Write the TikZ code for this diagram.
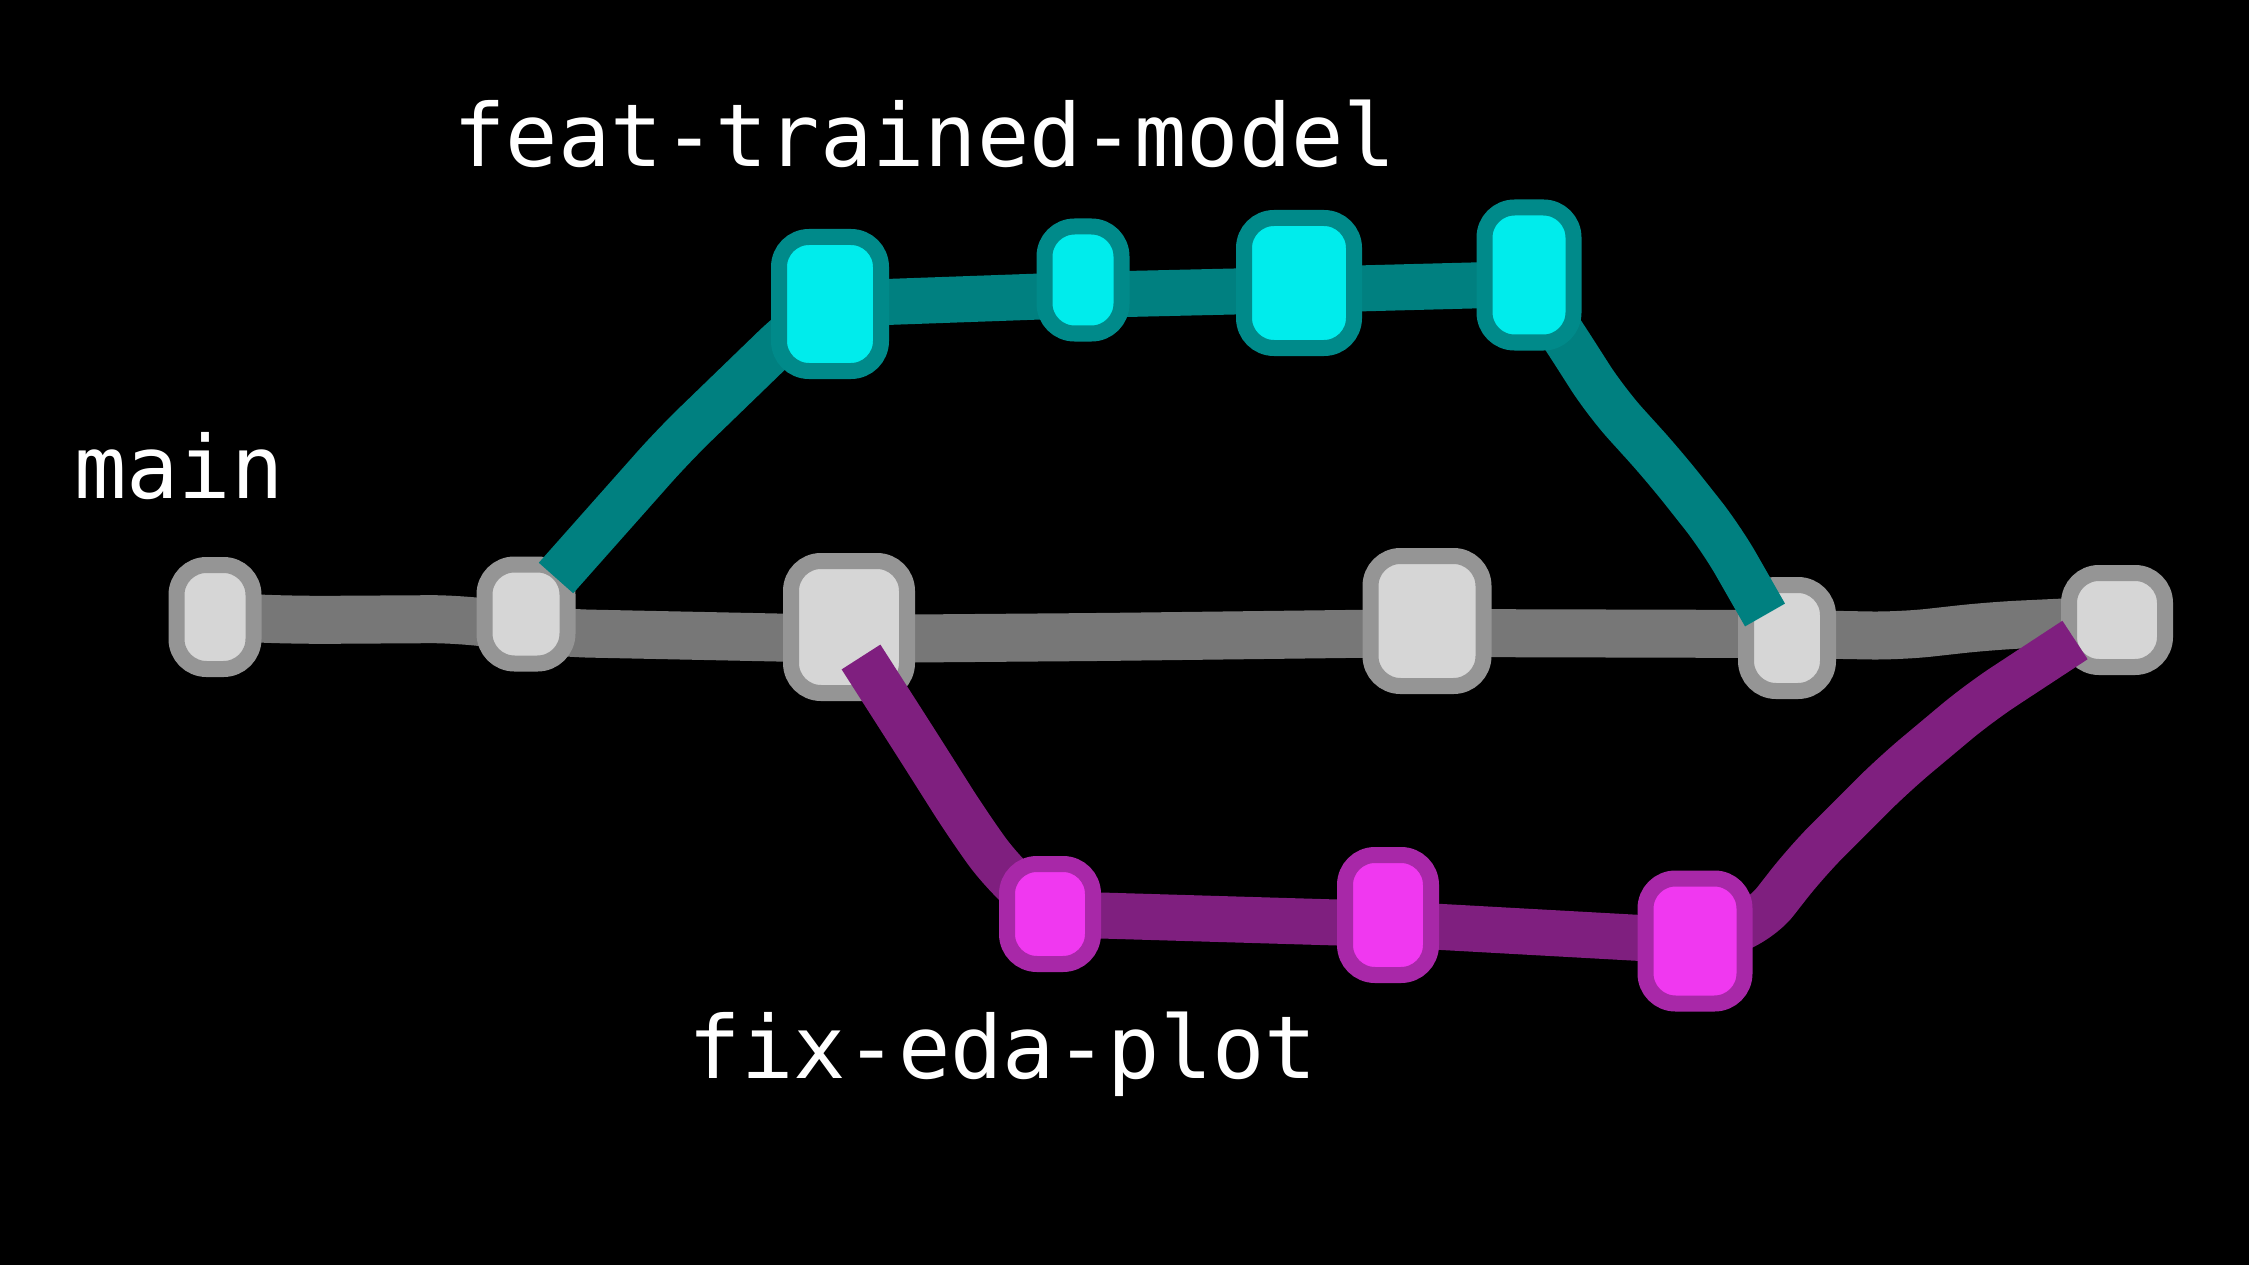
\documentclass[tikz,border=0pt]{standalone}
\usepackage{fontspec}
\newfontfamily\handfont{DejaVu Sans Mono}
\usetikzlibrary{calc}
\definecolor{grayline}{HTML}{777777}
\definecolor{gnodein}{HTML}{D6D6D6}
\definecolor{gnodeout}{HTML}{959595}
\definecolor{tealline}{HTML}{008080}
\definecolor{cnodein}{HTML}{00ECEC}
\definecolor{cnodeout}{HTML}{008A8A}
\definecolor{magline}{HTML}{7F1F7F}
\definecolor{mnodein}{HTML}{F038F0}
\definecolor{mnodeout}{HTML}{A828A8}
\pgfdeclarelayer{bg}
\pgfdeclarelayer{gline}
\pgfdeclarelayer{gnodes}
\pgfdeclarelayer{blines}
\pgfsetlayers{bg,gline,gnodes,blines,main}
\begin{document}
\begin{tikzpicture}[x=1pt,y=-1pt,
  commit/.style={rectangle, rounded corners=30pt, line width=16pt, inner sep=0pt},
  gcommit/.style={commit, fill=gnodein, draw=gnodeout},
  ccommit/.style={commit, fill=cnodein, draw=cnodeout},
  mcommit/.style={commit, fill=mnodein, draw=mnodeout},
  branchlabel/.style={text=white, font=\handfont\fontsize{87}{100}\selectfont, anchor=base, inner sep=0pt},
  mainpath/.style={draw=grayline, line width=48pt, line cap=butt, line join=round, rounded corners=30pt},
  featpath/.style={draw=tealline, line width=46pt, line cap=butt, line join=round, rounded corners=30pt},
  fixpath/.style={draw=magline, line width=46pt, line cap=butt, line join=round, rounded corners=30pt},
]
\begin{pgfonlayer}{bg}
\fill[black] (0,0) rectangle (2249,1265);
\end{pgfonlayer}
\useasboundingbox (0,0) rectangle (2249,1265);

% main commits
\begin{pgfonlayer}{gnodes}
\node[gcommit, minimum width=77pt, minimum height=104pt] (g1) at (215,617) {};
\node[gcommit, minimum width=83pt, minimum height=99pt] (g2) at (526,614) {};
\node[gcommit, minimum width=116pt, minimum height=132pt] (g3) at (849,627) {};
\node[gcommit, minimum width=113pt, minimum height=130pt] (g4) at (1427,621) {};
\node[gcommit, minimum width=82pt, minimum height=106pt] (g5) at (1787,638) {};
\node[gcommit, minimum width=96pt, minimum height=94pt] (g6) at (2117,620) {};
\end{pgfonlayer}

% feature commits
\node[ccommit, minimum width=102pt, minimum height=134pt] (c1) at (830,304) {};
\node[ccommit, minimum width=77pt, minimum height=107pt] (c2) at (1083,280) {};
\node[ccommit, minimum width=110pt, minimum height=130pt] (c3) at (1299,283) {};
\node[ccommit, minimum width=89pt, minimum height=135pt] (c4) at (1529,275) {};

% fix commits
\node[mcommit, minimum width=86pt, minimum height=100pt] (m1) at (1050,914) {};
\node[mcommit, minimum width=86pt, minimum height=120pt] (m2) at (1388,915) {};
\node[mcommit, minimum width=99pt, minimum height=125pt] (m3) at (1695,941) {};

% main line
\begin{pgfonlayer}{gline}
\draw[mainpath] (g1.center) -- (300,620) -- (460,619) -- (560,633)
  -- ($(g3.center)+(0,12)$) -- (1100,637) -- ($(g4.center)+(0,12)$)
  -- ($(g5.center)+(0,-4)$) -- (1900,636) -- (1990,626) -- (g6.center);
\end{pgfonlayer}

% branch lines
\begin{pgfonlayer}{blines}
\draw[featpath] ($(g2.center)+(30,-36)$) -- (674,445) -- (796,327) -- (c1.center)
  -- ($(c2.center)+(0,15)$) -- ($(c3.center)+(0,7)$) -- ($(c4.center)+(0,9)$)
  -- (1560,330) -- (1606,402) -- (1664,466) -- (1721,538)
  -- ($(g5.center)+(-22,-23)$);
\draw[fixpath] ($(g3.center)+(12,30)$) -- (918,746) -- (968,825) -- (1004,875)
  -- (m1.center) -- ($(m2.center)+(0,9)$) -- (m3.center)
  -- (1757,925) -- (1807,861) -- (1893,775) -- (1979,703)
  -- ($(g6.center)+(-42,20)$);
\end{pgfonlayer}

% labels
\node[branchlabel] (lfeat) at (925,167) {feat-trained-model};
\node[branchlabel] (lmain) at (179,498) {main};
\node[branchlabel] (lfix) at (1003,1078) {fix-eda-plot};
\end{tikzpicture}
\end{document}
